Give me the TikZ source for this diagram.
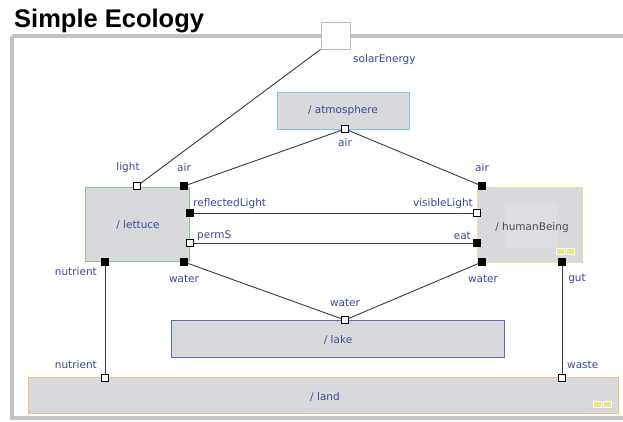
\documentclass[tikz,border=0pt]{standalone}
\usepackage{fontspec}
\setmainfont{DejaVu Sans}
\newfontfamily\titlefont{Liberation Sans}
\begin{document}
\definecolor{labelblue}{HTML}{3C4A96}
\definecolor{boxfill}{HTML}{D8D9DC}
\definecolor{innerfill}{HTML}{DCDDE0}
\definecolor{framegray}{HTML}{C0C4C4}
\definecolor{wire}{HTML}{3A3A3A}
\definecolor{atmoborder}{HTML}{7CC6DE}
\definecolor{lettuceborder}{HTML}{8CC47C}
\definecolor{humanborder}{HTML}{F0E0A0}
\definecolor{lakeborder}{HTML}{5A6AB8}
\definecolor{landborder}{HTML}{F0C080}
\definecolor{iconyellow}{HTML}{F2E27A}
\begin{tikzpicture}[x=1pt,y=-1pt,
  part/.style={draw, line width=1pt, fill=boxfill, inner sep=0pt,
    font=\fontsize{10.5}{12}\selectfont, text=labelblue},
  portw/.style={draw=black, line width=1pt, fill=white, minimum size=6.5pt, inner sep=0pt},
  portb/.style={draw=black, fill=black, minimum size=7pt, inner sep=0pt},
  lbl/.style={font=\fontsize{10.5}{12}\selectfont, text=labelblue, inner sep=0pt},
  wireline/.style={draw=wire, line width=0.9pt},
  icon/.style={fill=iconyellow, draw=white, line width=0.5pt, minimum width=8pt, minimum height=6pt, inner sep=0pt}]
\useasboundingbox (0,0) rectangle (623,421);
\fill[white] (0,0) rectangle (623,421);

% heading and enclosing frame
\node[anchor=base west, inner sep=0pt, font=\titlefont\bfseries\fontsize{25.5}{28}\selectfont] (title) at (14,27) {Simple Ecology};
\draw[framegray, line width=3.5pt] (12,36) -- (630,36);
\draw[framegray, line width=3.5pt] (12,36) -- (12,418) -- (630,418);

% parts
\node[part, draw=atmoborder, minimum width=132pt, minimum height=37pt] (atmo) at (343,110.5) {/ atmosphere};
\node[part, draw=lettuceborder, minimum width=104pt, minimum height=74pt] (lettuce) at (137,224) {};
\node[lbl] (lettucelbl) at (138,225) {/ lettuce};
\node[part, draw=humanborder, minimum width=105pt, minimum height=75pt] (human) at (529.5,224.5) {};
\fill[innerfill] (505,203) rectangle (557,248);
\node[inner sep=0pt, font=\fontsize{10.5}{12}\selectfont, text=black!70] (humanlbl) at (532,228) {/ humanBeing};
\node[icon] (hicon1) at (560,251.5) {};
\node[icon] (hicon2) at (570,251.5) {};
\node[part, draw=lakeborder, minimum width=333pt, minimum height=37pt] (lake) at (337.5,338.5) {};
\node[lbl] (lakelbl) at (338,340) {/ lake};
\node[part, draw=landborder, minimum width=590pt, minimum height=36pt] (land) at (323,395) {};
\node[lbl] (landlbl) at (325,397) {/ land};
\node[icon] (licon1) at (597,404) {};
\node[icon] (licon2) at (607,404) {};
\node[draw=black!25, line width=1pt, fill=white, minimum width=29pt, minimum height=27pt, inner sep=0pt] (solar) at (335.5,35.5) {};

% ports
\node[portw] (light) at (137,186) {};
\node[portb] (lair) at (184,186) {};
\node[portb] (refl) at (190,213) {};
\node[portw] (perms) at (190,243) {};
\node[portb] (lwater) at (184,262) {};
\node[portb] (lnut) at (105,262) {};
\node[portb] (hair) at (482,186) {};
\node[portw] (vis) at (477,213) {};
\node[portb] (eat) at (477,243) {};
\node[portb] (hwater) at (482,262) {};
\node[portb] (gut) at (562,262) {};
\node[portw] (atair) at (345,129) {};
\node[portw] (lkwater) at (345,320) {};
\node[portw] (landnut) at (105,378) {};
\node[portw] (waste) at (562,378) {};

% port names
\node[lbl, anchor=west] (solarlbl) at (353,60) {solarEnergy};
\node[lbl] (lightlbl) at (128,168) {light};
\node[lbl] (lairlbl) at (184,168) {air};
\node[lbl, anchor=west] (refllbl) at (193,204) {reflectedLight};
\node[lbl, anchor=west] (permslbl) at (197,236) {permS};
\node[lbl, anchor=east] (lnutlbl) at (97,272) {nutrient};
\node[lbl] (lwaterlbl) at (184,279) {water};
\node[lbl] (atairlbl) at (345,143) {air};
\node[lbl] (hairlbl) at (482,168) {air};
\node[lbl, anchor=east] (vislbl) at (473,204) {visibleLight};
\node[lbl, anchor=east] (eatlbl) at (471,236) {eat};
\node[lbl] (hwaterlbl) at (483,279) {water};
\node[lbl] (gutlbl) at (577,279) {gut};
\node[lbl] (lkwaterlbl) at (345,303) {water};
\node[lbl, anchor=east] (landnutlbl) at (97,365) {nutrient};
\node[lbl, anchor=west] (wastelbl) at (567,365) {waste};

% connectors
\draw[wireline] (light) -- (solar.south west);
\draw[wireline] (lair) -- (atair);
\draw[wireline] (hair) -- (atair);
\draw[wireline] (refl) -- (vis);
\draw[wireline] (perms) -- (eat);
\draw[wireline] (lwater) -- (lkwater);
\draw[wireline] (hwater) -- (lkwater);
\draw[wireline] (lnut) -- (landnut);
\draw[wireline] (gut) -- (waste);
\end{tikzpicture}
\end{document}
